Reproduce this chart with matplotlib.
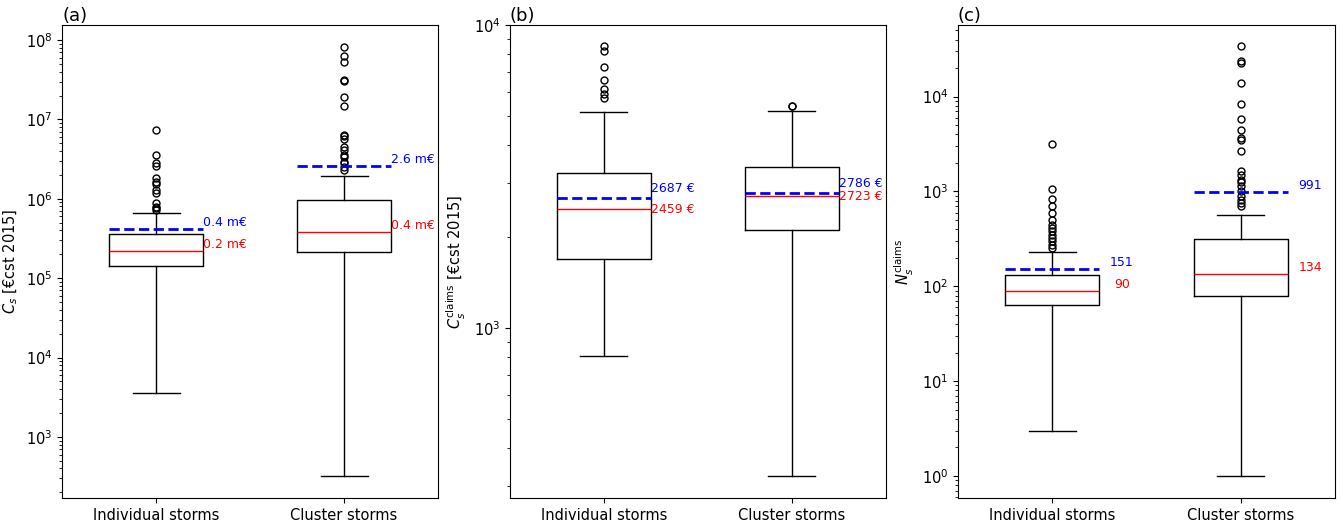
import matplotlib.pyplot as plt

groups = ['Individual storms', 'Cluster storms']

# [low whisker, q1, median, q3, high whisker], mean, outliers
cost_ind = [3550, 1.43e5, 2.22e5, 3.57e5, 6.7e5]
cost_ind_mean = 4.13e5
cost_ind_fliers = [7.3e6, 3.56e6, 2.8e6, 2.6e6, 1.81e6, 1.64e6, 1.54e6, 1.29e6,
                   1.19e6, 8.9e5, 7.9e5, 7.6e5, 7.2e5]
cost_clu = [320, 2.14e5, 3.79e5, 9.75e5, 1.95e6]
cost_clu_mean = 2.6e6
cost_clu_fliers = [8.2e7, 6.3e7, 5.3e7, 3.1e7, 3.05e7, 1.93e7, 1.49e7, 6.4e6, 6.2e6,
                   5.6e6, 4.5e6, 4.1e6, 3.56e6, 3.4e6, 2.93e6, 2.8e6, 2.54e6, 2.3e6]

claim_ind = [806, 1683, 2459, 3240, 5170]
claim_ind_mean = 2687
claim_ind_fliers = [8520, 8200, 7260, 6580, 6125, 5900, 5755]
claim_clu = [323, 2105, 2723, 3390, 5200]
claim_clu_mean = 2786
claim_clu_fliers = [5420, 5380]

n_ind = [3, 63.5, 90, 132, 230]
n_ind_mean = 151
n_ind_fliers = [3180, 1065, 835, 698, 594, 505, 447, 412, 380, 351, 324, 298, 275, 254]
n_clu = [1, 79, 134, 318, 561]
n_clu_mean = 991
n_clu_fliers = [3.4e4, 2.35e4, 2.28e4, 1.38e4, 8400, 5850, 4400, 3680, 3530, 2660,
                1635, 1507, 1335, 1250, 1135, 1005, 890, 820, 757, 698]


def make_stats(q, mean, fliers, label):
    return dict(whislo=q[0], q1=q[1], med=q[2], q3=q[3], whishi=q[4],
                mean=mean, fliers=fliers, label=label)


def draw(ax, stats, fmt, mode):
    ax.bxp(stats, positions=[1, 2], widths=0.5, showmeans=True, meanline=True,
           medianprops=dict(color='red', lw=1),
           meanprops=dict(color='blue', ls='--', lw=2),
           flierprops=dict(marker='o', markersize=5, markerfacecolor='none',
                           markeredgecolor='black'))
    ax.set_yscale('log')
    for pos, s in zip([1, 2], stats):
        if mode == 'c':
            x, ha = pos + 0.37, 'center'
            ax.annotate(fmt(s['mean']), (x, s['mean']), xytext=(0, 0), textcoords='offset points',
                        color='blue', ha=ha, va='bottom', fontsize=9)
            ax.annotate(fmt(s['med']), (x, s['med']), xytext=(0, 0), textcoords='offset points',
                        color='red', ha=ha, va='bottom', fontsize=9)
        elif mode == 'b':
            x = pos + 0.25
            ax.annotate(fmt(s['mean']), (x, s['mean']), xytext=(0, 2), textcoords='offset points',
                        color='blue', ha='left', va='bottom', fontsize=9)
            ax.annotate(fmt(s['med']), (x, s['med']), xytext=(0, 0), textcoords='offset points',
                        color='red', ha='left', va='center', fontsize=9)
        else:
            x = pos + 0.25
            ax.annotate(fmt(s['mean']), (x, s['mean']), xytext=(0, 0), textcoords='offset points',
                        color='blue', ha='left', va='bottom', fontsize=9)
            ax.annotate(fmt(s['med']), (x, s['med']), xytext=(0, 0), textcoords='offset points',
                        color='red', ha='left', va='bottom', fontsize=9)
    ax.tick_params(labelsize=10.5)


fig = plt.figure(figsize=(13.43, 5.3), dpi=100)
ax1 = fig.add_axes([0.0462, 0.0604, 0.28, 0.8925])
ax2 = fig.add_axes([0.3797, 0.0604, 0.28, 0.8925])
ax3 = fig.add_axes([0.7133, 0.0604, 0.2807, 0.8925])

draw(ax1, [make_stats(cost_ind, cost_ind_mean, cost_ind_fliers, groups[0]),
           make_stats(cost_clu, cost_clu_mean, cost_clu_fliers, groups[1])],
     lambda v: f'{v / 1e6:.1f} m€', 'a')
ax1.set_ylim(170, 1.55e8)
ax1.set_ylabel(r'$C_s$ [€cst 2015]', fontsize=10.5)
ax1.set_title('(a)', loc='left', fontsize=13, pad=2)

draw(ax2, [make_stats(claim_ind, claim_ind_mean, claim_ind_fliers, groups[0]),
           make_stats(claim_clu, claim_clu_mean, claim_clu_fliers, groups[1])],
     lambda v: f'{v:.0f} €', 'b')
ax2.set_ylim(274, 1.0e4)
ax2.set_ylabel(r'$C_s^{\mathrm{claims}}$ [€cst 2015]', fontsize=10.5)
ax2.set_title('(b)', loc='left', fontsize=13, pad=2)

draw(ax3, [make_stats(n_ind, n_ind_mean, n_ind_fliers, groups[0]),
           make_stats(n_clu, n_clu_mean, n_clu_fliers, groups[1])],
     lambda v: f'{v:.0f}', 'c')
ax3.set_ylim(0.586, 5.7e4)
ax3.set_ylabel(r'$N_s^{\mathrm{claims}}$', fontsize=10.5)
ax3.set_title('(c)', loc='left', fontsize=13, pad=2)

fig.savefig('out.png', dpi=100)
